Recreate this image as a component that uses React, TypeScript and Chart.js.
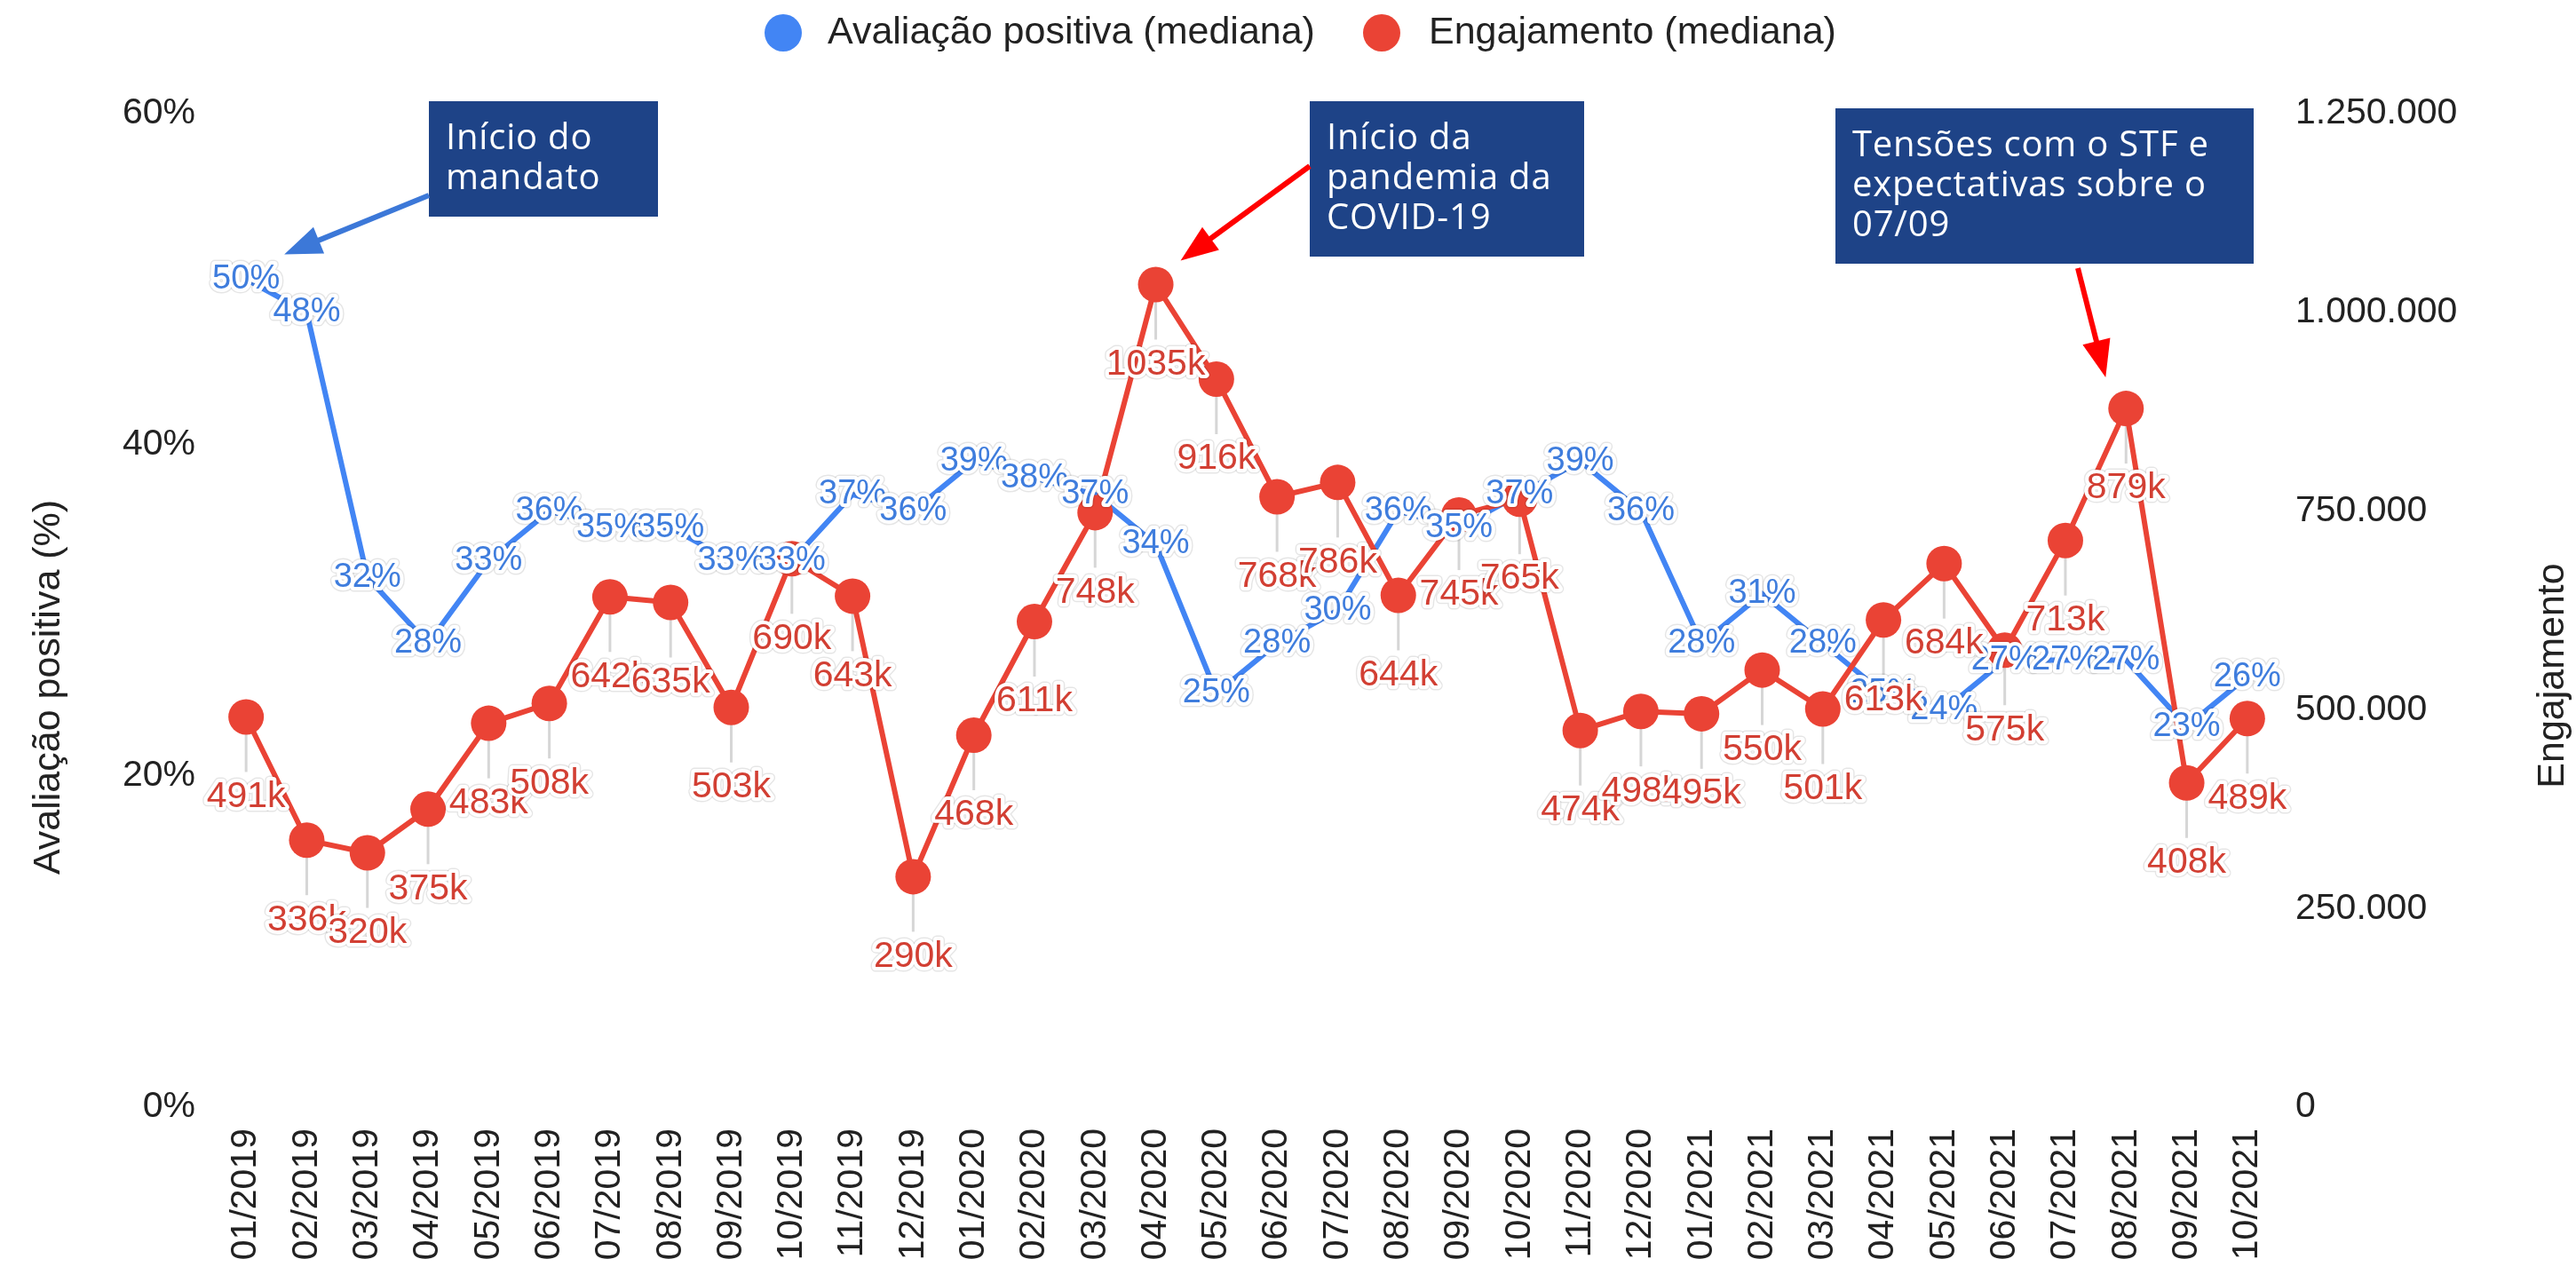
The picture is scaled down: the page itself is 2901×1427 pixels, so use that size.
import React, { useEffect, useRef } from "react";
import { Chart, registerables } from "chart.js";

Chart.register(...registerables);

// ---------- data ----------
const months = [
  "01/2019", "02/2019", "03/2019", "04/2019", "05/2019", "06/2019", "07/2019", "08/2019", "09/2019", "10/2019", "11/2019", "12/2019",
  "01/2020", "02/2020", "03/2020", "04/2020", "05/2020", "06/2020", "07/2020", "08/2020", "09/2020", "10/2020", "11/2020", "12/2020",
  "01/2021", "02/2021", "03/2021", "04/2021", "05/2021", "06/2021", "07/2021", "08/2021", "09/2021", "10/2021",
];

const avaliacaoPositiva = [
  50, 48, 32, 28, 33, 36, 35, 35, 33, 33, 37, 36,
  39, 38, 37, 34, 25, 28, 30, 36, 35, 37, 39, 36,
  28, 31, 28, 25, 24, 27, 27, 27, 23, 26,
];

const engajamento = [
  491000, 336000, 320000, 375000, 483000, 508000, 642000, 635000, 503000, 690000, 643000, 290000,
  468000, 611000, 748000, 1035000, 916000, 768000, 786000, 644000, 745000, 765000, 474000, 498000,
  495000, 550000, 501000, 613000, 684000, 575000, 713000, 879000, 408000, 489000,
];

const leftTicks = [0, 20, 40, 60];
const rightTicks = [0, 250000, 500000, 750000, 1000000, 1250000];

const seriesNames = ["Avaliação positiva (mediana)", "Engajamento (mediana)"];
const axisTitles = ["Avaliação positiva (%)", "Engajamento"];

const notes = [
  { lines: ["Início do", "mandato"], dataset: 0, index: 0 },
  { lines: ["Início da", "pandemia da", "COVID-19"], dataset: 1, index: 15 },
  { lines: ["Tensões com o STF e", "expectativas sobre o", "07/09"], dataset: 1, index: 31 },
];

// ---------- styles ----------
const FONT = "'Liberation Sans', Arial, sans-serif";
const BOX_FONT = "'Open Sans', 'Noto Sans', sans-serif";
const BLUE = "#4285F4";
const RED = "#EA4335";
const BLUE_TEXT = "#3f7ddd";
const RED_TEXT = "#d23f33";
const NAVY = "#1e4387";

const noteStyles = [
  { box: [483, 114, 258, 130], from: [483, 220], tipOffset: [43, -28], color: "#3c78d8" },
  { box: [1475, 114, 309, 175], from: [1475, 187], tipOffset: [28, -27], color: "#ff0000" },
  { box: [2067, 122, 471, 175], from: [2340, 302], tipOffset: [-23, -35], color: "#ff0000" },
];

const fmtThousands = (v: number) => String(v).replace(/\B(?=(\d{3})+(?!\d))/g, ".");

function haloText(ctx: CanvasRenderingContext2D, text: string, x: number, y: number, color: string) {
  ctx.lineJoin = "round";
  ctx.strokeStyle = "rgba(0,0,0,0.10)";
  ctx.lineWidth = 11;
  ctx.strokeText(text, x, y);
  ctx.strokeStyle = "#ffffff";
  ctx.lineWidth = 8;
  ctx.strokeText(text, x, y);
  ctx.fillStyle = color;
  ctx.fillText(text, x, y);
}

function drawArrow(ctx: CanvasRenderingContext2D, x1: number, y1: number, x2: number, y2: number, color: string) {
  const dx = x2 - x1;
  const dy = y2 - y1;
  const len = Math.hypot(dx, dy);
  const ux = dx / len;
  const uy = dy / len;
  const head = 42;
  const half = 16;
  const bx = x2 - ux * head;
  const by = y2 - uy * head;
  ctx.save();
  ctx.strokeStyle = color;
  ctx.fillStyle = color;
  ctx.lineWidth = 6;
  ctx.beginPath();
  ctx.moveTo(x1, y1);
  ctx.lineTo(bx + ux * 4, by + uy * 4);
  ctx.stroke();
  ctx.beginPath();
  ctx.moveTo(x2, y2);
  ctx.lineTo(bx - uy * half, by + ux * half);
  ctx.lineTo(bx + uy * half, by - ux * half);
  ctx.closePath();
  ctx.fill();
  ctx.restore();
}

const decorPlugin = {
  id: "decor",
  beforeDatasetsDraw(chart: any) {
    const ctx = chart.ctx as CanvasRenderingContext2D;
    const meta = chart.getDatasetMeta(1);
    ctx.save();
    ctx.strokeStyle = "#d6d6d6";
    ctx.lineWidth = 3;
    meta.data.forEach((pt: any) => {
      ctx.beginPath();
      ctx.moveTo(pt.x, pt.y);
      ctx.lineTo(pt.x, pt.y + 62);
      ctx.stroke();
    });
    ctx.restore();
  },
  afterDatasetsDraw(chart: any) {
    const ctx = chart.ctx as CanvasRenderingContext2D;
    ctx.save();
    ctx.textAlign = "center";
    ctx.textBaseline = "middle";
    // blue labels centered on points
    ctx.font = `38px ${FONT}`;
    chart.getDatasetMeta(0).data.forEach((pt: any, i: number) => {
      haloText(ctx, `${avaliacaoPositiva[i]}%`, pt.x, pt.y, BLUE_TEXT);
    });
    // red labels below points
    ctx.font = `41px ${FONT}`;
    chart.getDatasetMeta(1).data.forEach((pt: any, i: number) => {
      haloText(ctx, `${Math.round(engajamento[i] / 1000)}k`, pt.x, pt.y + 90, RED_TEXT);
    });
    ctx.restore();
  },
  afterDraw(chart: any) {
    const ctx = chart.ctx as CanvasRenderingContext2D;
    ctx.save();
    // legend
    ctx.font = `43px ${FONT}`;
    ctx.textBaseline = "middle";
    ctx.textAlign = "left";
    const legendItems = [
      { cx: 882, tx: 932, color: BLUE, text: seriesNames[0] },
      { cx: 1556, tx: 1609, color: RED, text: seriesNames[1] },
    ];
    legendItems.forEach((it) => {
      ctx.fillStyle = it.color;
      ctx.beginPath();
      ctx.arc(it.cx, 37, 21, 0, Math.PI * 2);
      ctx.fill();
      ctx.fillStyle = "#222222";
      ctx.fillText(it.text, it.tx, 37);
    });
    // axis titles
    ctx.textAlign = "center";
    ctx.fillStyle = "#222222";
    ctx.save();
    ctx.translate(55, 774);
    ctx.rotate(-Math.PI / 2);
    ctx.fillText(axisTitles[0], 0, 0);
    ctx.restore();
    ctx.save();
    ctx.translate(2875, 761);
    ctx.rotate(-Math.PI / 2);
    ctx.fillText(axisTitles[1], 0, 0);
    ctx.restore();

    // annotation boxes + arrows
    notes.forEach((n, k) => {
      const st = noteStyles[k];
      const [bx, by, bw, bh] = st.box;
      ctx.fillStyle = NAVY;
      ctx.fillRect(bx, by, bw, bh);
      ctx.fillStyle = "#ffffff";
      ctx.font = `40px ${BOX_FONT}`;
      try {
        (ctx as any).letterSpacing = "0.8px";
      } catch (e) {
        /* ignore */
      }
      ctx.textAlign = "left";
      ctx.textBaseline = "alphabetic";
      n.lines.forEach((line, j) => {
        ctx.fillText(line, bx + 19, by + 54 + j * 45);
      });
      try {
        (ctx as any).letterSpacing = "0px";
      } catch (e) {
        /* ignore */
      }
      const pt = chart.getDatasetMeta(n.dataset).data[n.index];
      drawArrow(ctx, st.from[0], st.from[1], pt.x + st.tipOffset[0], pt.y + st.tipOffset[1], st.color);
    });
    ctx.restore();
  },
};

export default function App() {
  const canvasRef = useRef<HTMLCanvasElement | null>(null);

  useEffect(() => {
    if (!canvasRef.current) return;
    const tickFont = { family: FONT, size: 41 };
    const chart = new Chart(canvasRef.current, {
      type: "line",
      data: {
        labels: months,
        datasets: [
          {
            label: seriesNames[0],
            data: avaliacaoPositiva,
            yAxisID: "y",
            borderColor: BLUE,
            backgroundColor: BLUE,
            borderWidth: 6,
            pointRadius: 0,
            pointHoverRadius: 0,
            tension: 0,
            order: 2,
          },
          {
            label: seriesNames[1],
            data: engajamento,
            yAxisID: "y1",
            borderColor: RED,
            backgroundColor: RED,
            borderWidth: 6,
            pointRadius: 20,
            pointHoverRadius: 20,
            pointBorderWidth: 0,
            pointBackgroundColor: RED,
            tension: 0,
            order: 1,
          },
        ],
      },
      options: {
        responsive: true,
        maintainAspectRatio: false,
        animation: false,
        devicePixelRatio: 1,
        layout: { padding: { top: 128, left: 0, right: 0, bottom: 0 } },
        plugins: {
          legend: { display: false },
          tooltip: { enabled: false },
          title: { display: false },
        },
        scales: {
          x: {
            type: "category",
            offset: true,
            grid: { display: false, drawTicks: false },
            border: { display: false },
            ticks: {
              autoSkip: false,
              minRotation: 90,
              maxRotation: 90,
              padding: 24,
              color: "#222222",
              font: tickFont,
            },
            afterFit: (s: any) => {
              s.height = 180;
            },
          },
          y: {
            position: "left",
            min: 0,
            max: 60,
            afterBuildTicks: (s: any) => {
              s.ticks = leftTicks.map((v) => ({ value: v }));
            },
            ticks: {
              padding: 23,
              color: "#222222",
              font: tickFont,
              callback: (v: any) => `${v}%`,
            },
            grid: { display: false, drawTicks: false },
            border: { display: false },
            afterFit: (s: any) => {
              s.width = 243;
            },
          },
          y1: {
            position: "right",
            min: 0,
            max: 1250000,
            afterBuildTicks: (s: any) => {
              s.ticks = rightTicks.map((v) => ({ value: v }));
            },
            ticks: {
              padding: 20,
              color: "#222222",
              font: tickFont,
              callback: (v: any) => fmtThousands(Number(v)),
            },
            grid: { display: false, drawTicks: false },
            border: { display: false },
            afterFit: (s: any) => {
              s.width = 336;
            },
          },
        },
      },
      plugins: [decorPlugin],
    } as any);
    return () => chart.destroy();
  }, []);

  return (
    <div style={{ position: "fixed", left: 0, top: 0, width: 2901, height: 1427, background: "#ffffff" }}>
      <canvas ref={canvasRef} />
    </div>
  );
}
